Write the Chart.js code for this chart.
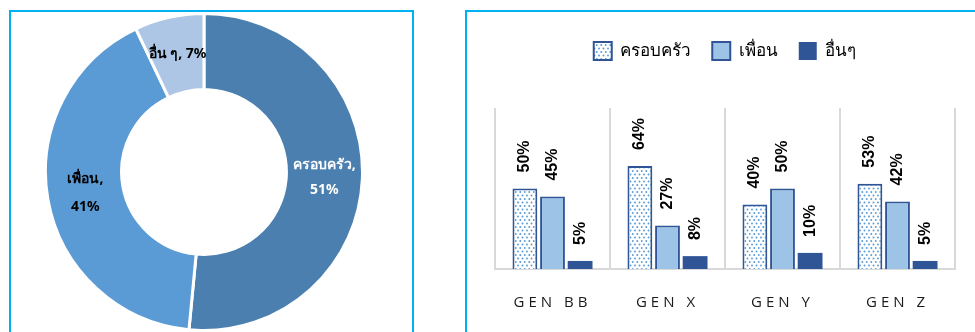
<!DOCTYPE html>
<html><head><meta charset="utf-8">
<script src="https://cdn.jsdelivr.net/npm/chart.js@4/dist/chart.umd.min.js"></script>
<style>
html,body{margin:0;padding:0;background:#fff;width:975px;height:332px;overflow:hidden;position:relative;font-family:"Noto Sans","DejaVu Sans",sans-serif;}
.panel{position:absolute;border:2px solid #00b0f0;box-sizing:border-box;}
#p1{left:9px;top:10px;width:405px;height:400px;}
#p2{left:465px;top:10px;width:600px;height:400px;}
#c1wrap{position:absolute;left:44px;top:12px;width:320px;height:320px;}
#c2wrap{position:absolute;left:467px;top:12px;width:508px;height:325px;}
</style></head>
<body>
<div class="panel" id="p1"></div>
<div class="panel" id="p2"></div>
<div id="c1wrap"><canvas id="c1"></canvas></div>
<div id="c2wrap"><canvas id="c2"></canvas></div>
<script>
// ---- data ----
const pieLabels = ['ครอบครัว', 'เพื่อน', 'อื่น ๆ'];
const pieValues = [51, 41, 7];
const genLabels = ['GEN BB', 'GEN X', 'GEN Y', 'GEN Z'];
const seriesNames = ['ครอบครัว', 'เพื่อน', 'อื่นๆ'];
const familyValues = [50, 64, 40, 53];
const friendValues = [45, 27, 50, 42];
const otherValues = [5, 8, 10, 5];

const THAI = '"Noto Sans","DejaVu Sans","Liberation Sans",sans-serif';
const BOLD = '"Liberation Sans","Noto Sans",sans-serif';

// dotted pattern
function makePattern() {
  const c = document.createElement('canvas');
  c.width = 9; c.height = 7;
  const g = c.getContext('2d');
  g.fillStyle = '#fff'; g.fillRect(0, 0, 9, 7);
  g.fillStyle = '#5b9bd5';
  const pts = [[1.5, 1.5], [6, 1.5], [3.75, 5], [8.25, 5], [-0.75, 5]];
  pts.forEach(([x, y]) => { g.beginPath(); g.arc(x, y, 0.95, 0, Math.PI * 2); g.fill(); });
  return g.createPattern(c, 'repeat');
}
const dotted = makePattern();

// ---- doughnut ----
const pieLabelPlugin = {
  id: 'pieLabels',
  afterDatasetsDraw(chart) {
    const ctx = chart.ctx;
    const meta = chart.getDatasetMeta(0);
    const lines = [
      [pieLabels[0] + ',', pieValues[0] + '%'],
      [pieLabels[1] + ',', pieValues[1] + '%'],
      [pieLabels[2] + ', ' + pieValues[2] + '%']
    ];
    const colors = ['#ffffff', '#000000', '#000000'];
    const gaps = [25, 28, 0];
    meta.data.forEach((arc, i) => {
      const p = arc.getProps(['x', 'y', 'startAngle', 'endAngle', 'innerRadius', 'outerRadius'], true);
      const mid = (p.startAngle + p.endAngle) / 2;
      const r = (p.innerRadius + p.outerRadius) / 2;
      const cx = p.x + Math.cos(mid) * r;
      const cy = p.y + Math.sin(mid) * r;
      ctx.save();
      ctx.fillStyle = colors[i];
      ctx.font = 'bold 14px ' + THAI;
      ctx.textAlign = 'center';
      ctx.textBaseline = 'middle';
      const L = lines[i];
      const n = L.length;
      L.forEach((t, k) => {
        const y = cy + (k - (n - 1) / 2) * gaps[i];
        ctx.fillText(t, cx, y);
      });
      ctx.restore();
    });
  }
};

new Chart(document.getElementById('c1'), {
  type: 'doughnut',
  data: {
    labels: pieLabels,
    datasets: [{
      data: pieValues,
      backgroundColor: ['#4b7fb0', '#5b9bd5', '#adc6e6'],
      borderColor: '#ffffff',
      borderWidth: 3
    }]
  },
  options: {
    responsive: true, maintainAspectRatio: false, animation: false,
    cutout: '52%',
    layout: { padding: 0 },
    plugins: { legend: { display: false }, tooltip: { enabled: false } }
  },
  plugins: [pieLabelPlugin]
});

// ---- bar chart ----
const barLabelPlugin = {
  id: 'barLabels',
  afterDatasetsDraw(chart) {
    const ctx = chart.ctx;
    chart.data.datasets.forEach((ds, di) => {
      const meta = chart.getDatasetMeta(di);
      meta.data.forEach((bar, i) => {
        ctx.save();
        ctx.translate(bar.x, bar.y - 16);
        ctx.rotate(-Math.PI / 2);
        ctx.font = 'bold 16px ' + BOLD;
        ctx.fillStyle = '#000';
        ctx.textAlign = 'left';
        ctx.textBaseline = 'middle';
        ctx.fillText(ds.data[i] + '%', 0, 0);
        ctx.restore();
      });
    });
  }
};
const spacingPlugin = {
  id: 'xLetterSpacing',
  afterInit(chart) {
    const lg = chart.legend;
    if (lg && !lg._fx) {
      const f = lg.fit.bind(lg);
      lg.fit = function () { f(); this.height += 38; };
      lg._fx = true;
    }
  },
  afterUpdate(chart) {
    const s = chart.scales.x;
    if (s && !s._ls) {
      const orig = s.drawLabels.bind(s);
      s.drawLabels = function (ca) {
        const ctx = this.ctx;
        ctx.save();
        ctx.letterSpacing = '4px';
        orig(ca);
        ctx.restore();
      };
      s._ls = true;
    }
  }
};

new Chart(document.getElementById('c2'), {
  type: 'bar',
  data: {
    labels: genLabels,
    datasets: [
      { label: seriesNames[0], data: familyValues, backgroundColor: dotted, borderColor: '#2f5597', borderWidth: 2, borderSkipped: 'bottom' },
      { label: seriesNames[1], data: friendValues, backgroundColor: '#9dc3e6', borderColor: '#2f5597', borderWidth: 2, borderSkipped: 'bottom' },
      { label: seriesNames[2], data: otherValues, backgroundColor: '#2f5597', borderColor: '#2f5597', borderWidth: 0 }
    ]
  },
  options: {
    responsive: true, maintainAspectRatio: false, animation: false,
    categoryPercentage: 0.72, barPercentage: 0.9,
    layout: { padding: { left: 28, right: 20, top: 9, bottom: 0 } },
    plugins: {
      tooltip: { enabled: false },
      legend: {
        position: 'top',
        labels: {
          font: { family: THAI, size: 17 },
          color: '#000',
          boxWidth: 18, boxHeight: 18,
          padding: 21,
          generateLabels(chart) {
            return chart.data.datasets.map((ds, i) => ({
              text: ds.label,
              fillStyle: ds.backgroundColor,
              strokeStyle: '#2f5597',
              lineWidth: i === 2 ? 0 : 2,
              datasetIndex: i,
              hidden: false
            }));
          }
        }
      }
    },
    scales: {
      x: {
        grid: { display: true, offset: true, color: '#d9d9d9', lineWidth: 2, drawTicks: false },
        border: { display: true, color: '#d9d9d9', width: 2 },
        ticks: { color: '#1a1a1a', font: { family: '"Open Sans","Liberation Sans",sans-serif', size: 15 }, padding: 25 }
      },
      y: {
        display: false, min: 0, max: 100
      }
    }
  },
  plugins: [barLabelPlugin, spacingPlugin]
});
</script>
</body></html>
